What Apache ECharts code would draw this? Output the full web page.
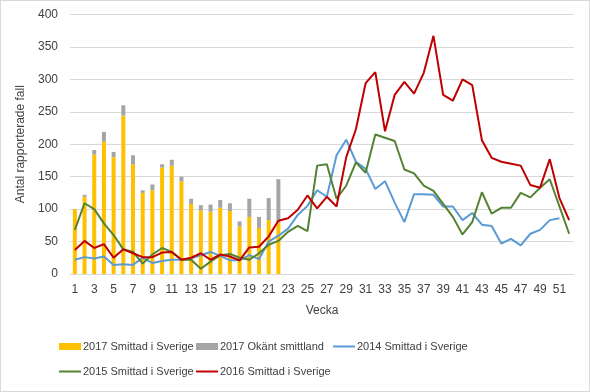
<!DOCTYPE html>
<html>
<head>
<meta charset="utf-8">
<script src="https://cdn.jsdelivr.net/npm/echarts@6/dist/echarts.min.js"></script>
<style>
html,body{margin:0;padding:0;background:#fff;}
#wrap{position:relative;width:590px;height:392px;}
#chart{width:590px;height:392px;}
#frame{position:absolute;left:0;top:0;width:590px;height:392px;box-sizing:border-box;border:1px solid #d9d9d9;pointer-events:none;}
</style>
</head>
<body>
<div id="wrap"><div id="chart"></div><div id="frame"></div></div>
<script>
const weeks = Array.from({length: 52}, (_, i) => String(i + 1));

const smittad2017 = [100,119,184,204,180,244,169,125,129,164,167,143,108,98,96,102,97,73,88,71,83,79];
const okant2017   = [0,3,7,15,8,16,14,4,9,5,9,7,8,8,11,12,12,8,28,17,34,67];

const s2014 = [22,26,24,27,14,15,14,25,17,20,22,22,24,29,34,28,21,21,29,23,50,59,70,91,105,129,119,183,207,173,162,131,143,110,80,123,123,122,104,104,83,94,76,74,47,54,44,62,68,83,86,null];
const s2015 = [68,109,100,78,60,38,34,16,30,40,34,22,22,8,19,29,31,25,22,32,45,51,65,74,66,167,169,116,136,172,156,215,210,205,161,155,136,128,108,88,61,80,126,93,102,102,125,118,133,146,104,62];
const s2016 = [37,51,40,46,25,38,32,26,26,33,34,22,25,32,22,30,27,21,41,42,58,82,86,99,121,101,119,104,180,223,294,311,220,276,296,278,310,367,276,267,300,291,206,179,173,170,167,137,133,177,117,83];

const names = ['2017 Smittad i Sverige','2017 Okänt smittland','2014 Smittad i Sverige','2015 Smittad i Sverige','2016 Smittad i Sverige'];
const colors = ['#FFC000','#A5A5A5','#5B9BD5','#548235','#C00000'];

const font = "'Liberation Sans', Arial, sans-serif";
const txt = '#404040';

function leg(name, left, top, isBar) {
  return {
    data: [{name: name, icon: 'rect'}],
    left: left, top: top, padding: 0,
    itemWidth: 22, itemHeight: isBar ? 7 : 2,
    textStyle: {fontFamily: font, fontSize: 11, color: txt, padding: [0,0,0,-3]},
    selectedMode: false
  };
}

const chart = echarts.init(document.getElementById('chart'), null, {renderer: 'canvas'});
chart.setOption({
  backgroundColor: '#fff',
  animation: false,
  grid: {left: 70, right: 16, top: 14.4, bottom: 118},
  legend: [
    leg(names[0], 59, 341, true),
    leg(names[1], 196, 341, true),
    leg(names[2], 333, 341, false),
    leg(names[3], 59, 366, false),
    leg(names[4], 196, 366, false)
  ],
  xAxis: {
    type: 'category', data: weeks,
    name: 'Vecka', nameLocation: 'middle', nameGap: 31,
    nameTextStyle: {fontFamily: font, fontSize: 12, color: txt},
    axisLine: {lineStyle: {color: '#D9D9D9', width: 1}},
    axisTick: {show: false},
    axisLabel: {interval: 1, margin: 10, fontFamily: font, fontSize: 12, color: txt}
  },
  yAxis: {
    type: 'value', min: 0, max: 400, interval: 50,
    name: 'Antal rapporterade fall', nameLocation: 'middle', nameGap: 36, nameRotate: 90,
    nameTextStyle: {fontFamily: font, fontSize: 12, color: txt},
    axisLine: {show: false}, axisTick: {show: false},
    splitLine: {lineStyle: {color: '#D9D9D9', width: 1}},
    axisLabel: {margin: 12, fontFamily: font, fontSize: 12, color: txt}
  },
  series: [
    {name: names[0], type: 'bar', stack: 'b', data: smittad2017, barWidth: 4, itemStyle: {color: colors[0]}},
    {name: names[1], type: 'bar', stack: 'b', data: okant2017, barWidth: 4, itemStyle: {color: colors[1]}},
    {name: names[2], type: 'line', data: s2014, showSymbol: false, symbol: 'none', lineStyle: {color: colors[2], width: 2}, itemStyle: {color: colors[2]}},
    {name: names[3], type: 'line', data: s2015, showSymbol: false, symbol: 'none', lineStyle: {color: colors[3], width: 2}, itemStyle: {color: colors[3]}},
    {name: names[4], type: 'line', data: s2016, showSymbol: false, symbol: 'none', lineStyle: {color: colors[4], width: 2}, itemStyle: {color: colors[4]}}
  ]
});
</script>
</body>
</html>
